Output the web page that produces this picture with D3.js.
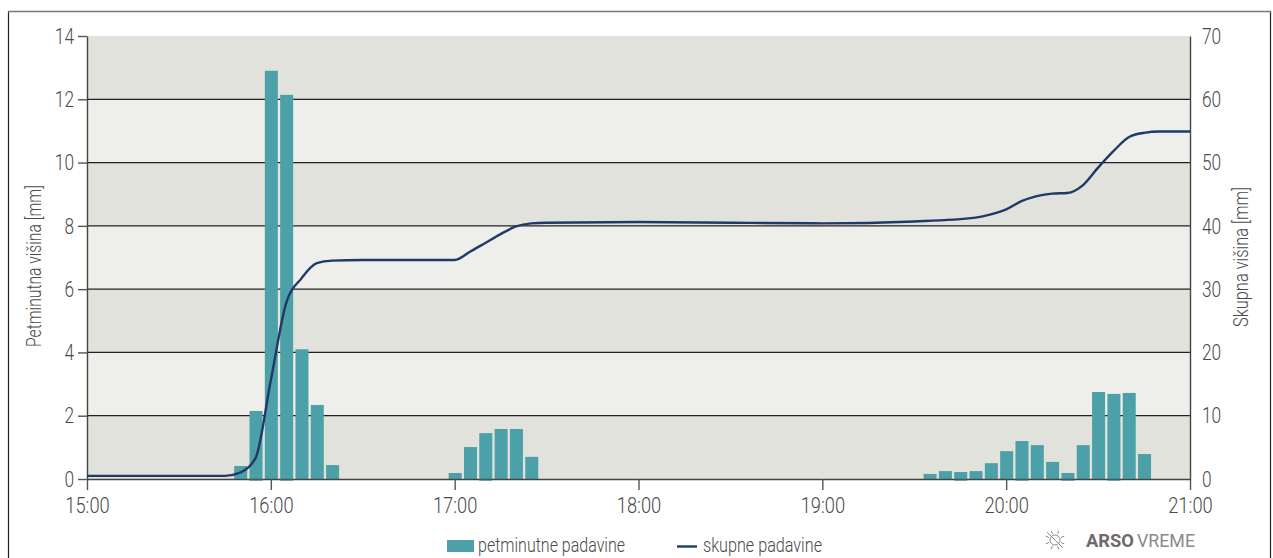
<!DOCTYPE html>
<html><head><meta charset="utf-8">
<script src="https://cdn.jsdelivr.net/npm/d3@7"></script>
<style>
html,body{margin:0;padding:0;background:#fff;overflow:hidden}
svg{display:block}
text{font-family:Roboto,"Liberation Sans",sans-serif;font-weight:300;fill:#4a4a4a}
</style></head><body>
<svg id="c" width="1273" height="558"></svg>
<script>
const barTimes=["15:50","15:55","16:00","16:05","16:10","16:15","16:20",
 "17:00","17:05","17:10","17:15","17:20","17:25",
 "19:35","19:40","19:45","19:50","19:55","20:00","20:05","20:10","20:15","20:20","20:25","20:30","20:35","20:40","20:45"];
const barValues=[0.41,2.15,12.9,12.14,4.1,2.34,0.44,
 0.19,1.01,1.45,1.58,1.58,0.7,
 0.16,0.25,0.22,0.25,0.5,0.88,1.2,1.07,0.54,0.19,1.07,2.75,2.69,2.72,0.79];
const barsBelowAxis=["15:55","16:05","17:10","19:45","20:05","20:20","20:35"];
const lineTimes=["15:00","15:45","15:50","15:55","16:00","16:05","16:10","16:15","16:20","16:30","17:00","17:05","17:10","17:15","17:20","17:25","17:30","18:00","18:30","19:00","19:30","19:50","19:55","20:00","20:05","20:10","20:15","20:20","20:25","20:30","20:35","20:40","20:45","20:50","21:00"];
const lineValues=[0.5,0.5,1.0,3.3,15.6,27.8,31.7,34.1,34.5,34.6,34.6,35.9,37.3,38.7,39.9,40.4,40.5,40.6,40.5,40.4,40.7,41.3,41.8,42.6,43.9,44.7,45.1,45.2,46.4,49.2,51.8,54.0,54.7,54.9,54.9];
const xTickLabels=["15:00","16:00","17:00","18:00","19:00","20:00","21:00"];
const leftTicks=[0,2,4,6,8,10,12,14];
const rightTicks=[0,10,20,30,40,50,60,70];
const leftTitle="Petminutna višina [mm]", rightTitle="Skupna višina [mm]";
const legendBar="petminutne padavine", legendLine="skupne padavine";

const parse=d3.utcParse("%H:%M");
const svg=d3.select("#c");
const L=87,R=1190,T=36,B=479;
const x=d3.scaleUtc().domain([parse("15:00"),parse("21:00")]).range([L,R]);
const yL=d3.scaleLinear().domain([0,14]).range([B,T]);
const yR=d3.scaleLinear().domain([0,70]).range([B,T]);
const bw=13;

// squeeze a text to a given width, Roboto being wider than the original face
function fit(sel,w){sel.attr("textLength",w).attr("lengthAdjust","spacingAndGlyphs");return sel;}

svg.append("path").attr("d","M8.5,558V11.5H1270.5V558").attr("fill","none").attr("stroke","#222").attr("stroke-width",1.2);
svg.append("line").attr("x1",8).attr("x2",1271).attr("y1",11.5).attr("y2",11.5).attr("stroke","#777").attr("stroke-width",1.5);

svg.append("g").selectAll("rect").data(d3.pairs(leftTicks)).join("rect")
 .attr("x",L).attr("width",R-L).attr("y",d=>yL(d[1])).attr("height",d=>yL(d[0])-yL(d[1]))
 .attr("fill",(d,i)=>i%2==0?"#e1e2dc":"#eeefea");

svg.append("g").selectAll("line").data(leftTicks.filter(d=>d>0&&d<14)).join("line")
 .attr("x1",L).attr("x2",R).attr("y1",d=>yL(d)).attr("y2",d=>yL(d))
 .attr("stroke","#222").attr("stroke-width",1.2);

const barData=barTimes.map((t,i)=>({t:t,v:barValues[i]}));
svg.append("g").selectAll("rect").data(barData).join("rect")
 .attr("x",d=>x(parse(d.t))-bw/2+.5).attr("width",bw)
 .attr("y",d=>yL(d.v)).attr("height",d=>yL(0)-yL(d.v))
 .attr("fill","#4ca0a7");

function styleAxis(g){g.select(".domain").attr("stroke","#444").attr("stroke-width",1.4);
 g.selectAll(".tick line").attr("stroke","#555").attr("stroke-width",1.4);
 g.selectAll("text").attr("font-size",22.5).attr("font-family",null).attr("fill",null)
  .each(function(){const s=this.textContent;const w=s.replace(":","").length*9.6+(s.includes(":")?6:0);fit(d3.select(this),w);});}
svg.append("g").attr("transform",`translate(0,${B})`)
 .call(d3.axisBottom(x).tickValues(xTickLabels.map(parse)).tickFormat(d3.utcFormat("%H:%M")).tickSize(11).tickSizeOuter(0).tickPadding(7))
 .call(styleAxis);
svg.append("g").attr("transform",`translate(${L},0)`)
 .call(d3.axisLeft(yL).tickValues(leftTicks).tickSize(9).tickSizeOuter(0).tickPadding(4))
 .call(styleAxis);
svg.append("g").attr("transform",`translate(${R},0)`)
 .call(d3.axisRight(yR).tickValues(rightTicks).tickSize(0).tickPadding(12))
 .call(styleAxis);

svg.append("g").selectAll("rect").data(barsBelowAxis).join("rect")
 .attr("x",d=>x(parse(d))-bw/2+.5).attr("width",bw).attr("y",B).attr("height",1.5).attr("fill","#2f6468");

const line=d3.line().x(d=>x(d.t)).y(d=>yR(d.v)).curve(d3.curveMonotoneX);
const lineData=lineTimes.map((t,i)=>({t:parse(t),v:lineValues[i]}));
svg.append("path").datum(lineData).attr("d",line).attr("fill","none").attr("stroke","#1f3a68").attr("stroke-width",2.4);

fit(svg.append("text").attr("transform","translate(41,266) rotate(-90)").attr("text-anchor","middle").attr("font-size",20.5).text(leftTitle),162);
fit(svg.append("text").attr("transform","translate(1248,257) rotate(-90)").attr("text-anchor","middle").attr("font-size",20.5).text(rightTitle),140);

svg.append("rect").attr("x",447).attr("y",540).attr("width",27).attr("height",12).attr("fill","#4ca0a7");
fit(svg.append("text").attr("x",478).attr("y",552).attr("font-size",20.5).text(legendBar),147);
svg.append("line").attr("x1",677).attr("x2",697).attr("y1",546.5).attr("y2",546.5).attr("stroke","#1f3a68").attr("stroke-width",2.4);
fit(svg.append("text").attr("x",703).attr("y",552).attr("font-size",20.5).text(legendLine),119);

const logo=svg.append("g").attr("transform","translate(1055,540)").attr("stroke","#8a8a8a").attr("stroke-width",1).attr("fill","none");
logo.append("circle").attr("r",5);
d3.range(8).forEach(i=>{const a=i*Math.PI/4+Math.PI/8;
 logo.append("line").attr("x1",6.5*Math.cos(a)).attr("y1",6.5*Math.sin(a)).attr("x2",10*Math.cos(a)).attr("y2",10*Math.sin(a));});
logo.append("line").attr("x1",-8).attr("y1",-8).attr("x2",8).attr("y2",8);
const lt1=svg.append("text").attr("x",1086).attr("y",547).attr("font-size",18).style("font-weight",700).style("fill","#6f6a6a").text("ARSO");
fit(lt1,48);
const lt2=svg.append("text").attr("x",1137).attr("y",547).attr("font-size",18).style("font-weight",400).style("fill","#8a8a8a").text("VREME");
fit(lt2,58);
</script>
</body></html>
